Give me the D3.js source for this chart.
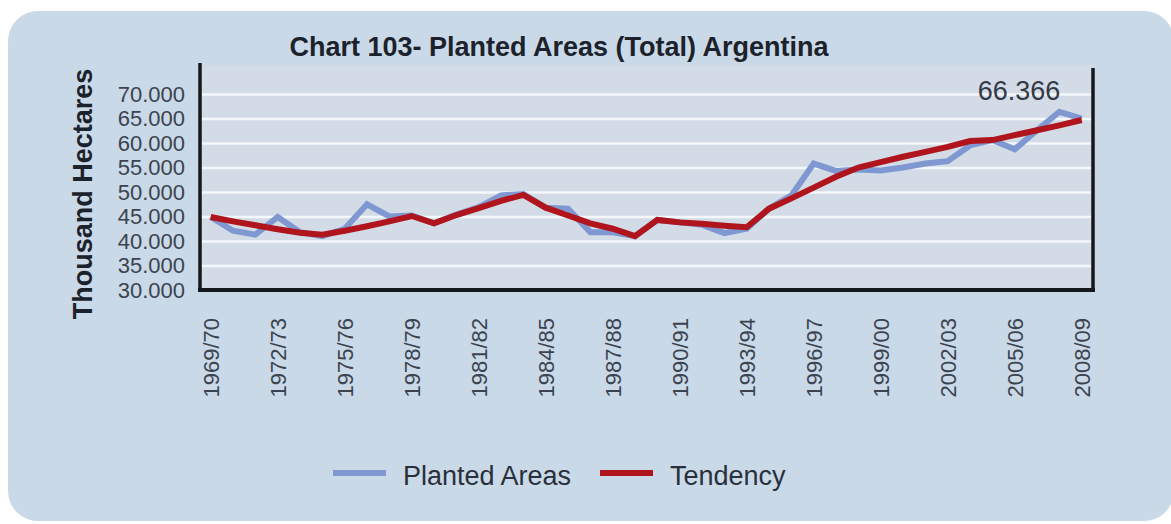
<!DOCTYPE html>
<html>
<head>
<meta charset="utf-8">
<script src="https://cdn.jsdelivr.net/npm/d3@7"></script>
<style>
  html, body { margin: 0; padding: 0; background: #ffffff; }
  svg { display: block; }
  text { font-family: "Liberation Sans", Arial, sans-serif; }
</style>
</head>
<body>
<svg id="chart" width="1171" height="524"></svg>
<script>
// ---- Data ----
const seasons = [
  "1969/70","1970/71","1971/72","1972/73","1973/74","1974/75","1975/76","1976/77",
  "1977/78","1978/79","1979/80","1980/81","1981/82","1982/83","1983/84","1984/85",
  "1985/86","1986/87","1987/88","1988/89","1989/90","1990/91","1991/92","1992/93",
  "1993/94","1994/95","1995/96","1996/97","1997/98","1998/99","1999/00","2000/01",
  "2001/02","2002/03","2003/04","2004/05","2005/06","2006/07","2007/08","2008/09"
];
const plantedAreas = [
  44900, 42100, 41300, 44900, 41800, 41000, 42500, 47500,
  45000, 45200, 43600, 45400, 46900, 49300, 49600, 46800,
  46600, 41800, 41800, 41000, 44300, 43800, 43300, 41600,
  42500, 46600, 49300, 55800, 54300, 54600, 54400, 55000,
  55800, 56300, 59500, 60600, 58700, 62600, 66366, 65000
];
const tendency = [
  44900, 44000, 43200, 42400, 41700, 41300, 42100, 43000,
  44000, 45100, 43600, 45300, 46700, 48200, 49400, 46800,
  45200, 43600, 42500, 41000, 44300, 43800, 43500, 43100,
  42800, 46600, 48700, 50900, 53100, 55000, 56100, 57200,
  58200, 59200, 60400, 60600, 61600, 62600, 63600, 64700
];
const yTicks = [30000, 35000, 40000, 45000, 50000, 55000, 60000, 65000, 70000];
const xTickLabels = ["1969/70","1972/73","1975/76","1978/79","1981/82","1984/85","1987/88",
  "1990/91","1993/94","1996/97","1999/00","2002/03","2005/06","2008/09"];
const seriesNames = ["Planted Areas", "Tendency"];
const titleText = "Chart 103- Planted Areas (Total) Argentina";
const yTitle = "Thousand Hectares";

// ---- Layout ----
const svg = d3.select("#chart");
const plot = { left: 200, right: 1093, top: 65, bottom: 290 };
const colors = { blue: "#7f98d2", red: "#b0141c" };

const locale = d3.formatLocale({ decimal: ",", thousands: ".", grouping: [3], currency: ["", ""] });
const fmt = locale.format(",.0f");

const x = d3.scalePoint().domain(seasons).range([210.7, 1081.7]);
const y = d3.scaleLinear().domain([30000, 70000]).range([290, 94]);

// panel
svg.append("rect").attr("x", 8).attr("y", 11).attr("width", 1166).attr("height", 510)
  .attr("rx", 30).attr("fill", "#c9d9e7");

// plot background
svg.append("rect").attr("x", plot.left).attr("y", plot.top)
  .attr("width", plot.right - plot.left).attr("height", plot.bottom - plot.top)
  .attr("fill", "#d3dce6");

// gridlines
const grid = svg.append("g").attr("transform", `translate(${plot.left},0)`)
  .call(d3.axisLeft(y).tickValues(yTicks.filter(d => d > 30000)).tickSize(-(plot.right - plot.left)).tickFormat(""));
grid.select(".domain").remove();
grid.selectAll("line").attr("stroke", "#f4f7fa").attr("stroke-width", 2.5);

// y tick labels
const yAx = svg.append("g").attr("transform", `translate(${plot.left - 15},0)`)
  .call(d3.axisLeft(y).tickValues(yTicks).tickSize(0).tickPadding(0).tickFormat(fmt));
yAx.select(".domain").remove();
yAx.selectAll("text").attr("font-size", 22).attr("fill", "#3c4350")
  .attr("font-family", "'Liberation Sans', Arial, sans-serif");

// x tick labels
const xAx = svg.append("g").attr("transform", `translate(0,${plot.bottom})`)
  .call(d3.axisBottom(x).tickValues(xTickLabels).tickSize(0).tickPadding(0));
xAx.select(".domain").remove();
xAx.selectAll("text")
  .attr("transform", "rotate(-90)")
  .attr("text-anchor", "end")
  .attr("x", -28).attr("y", 0).attr("dy", "0.36em")
  .attr("font-size", 22).attr("fill", "#3c4350")
  .attr("font-family", "'Liberation Sans', Arial, sans-serif");

// lines
const line = d3.line().x((d, i) => x(seasons[i])).y(d => y(d)).curve(d3.curveLinear);
svg.append("path").datum(plantedAreas).attr("d", line)
  .attr("fill", "none").attr("stroke", colors.blue).attr("stroke-width", 6)
  .attr("stroke-linejoin", "miter");
svg.append("path").datum(tendency).attr("d", line)
  .attr("fill", "none").attr("stroke", colors.red).attr("stroke-width", 6)
  .attr("stroke-linejoin", "miter");

// axes frame lines
svg.append("line").attr("x1", plot.left).attr("x2", plot.left).attr("y1", 63).attr("y2", plot.bottom + 2)
  .attr("stroke", "#15181d").attr("stroke-width", 3.5);
svg.append("line").attr("x1", plot.right).attr("x2", plot.right).attr("y1", 68).attr("y2", plot.bottom + 2)
  .attr("stroke", "#15181d").attr("stroke-width", 3.5);
svg.append("line").attr("x1", plot.left - 2).attr("x2", plot.right + 2).attr("y1", plot.bottom).attr("y2", plot.bottom)
  .attr("stroke", "#15181d").attr("stroke-width", 4);

// max annotation
const maxI = d3.maxIndex(plantedAreas);
svg.append("text").attr("x", x(seasons[maxI]) + 1).attr("y", y(plantedAreas[maxI]) - 12)
  .attr("text-anchor", "end").attr("font-size", 27).attr("fill", "#343a46")
  .text(fmt(plantedAreas[maxI]));

// title
svg.append("text").attr("x", 559).attr("y", 56).attr("text-anchor", "middle")
  .attr("font-size", 27).attr("font-weight", "bold").attr("fill", "#1c222c")
  .text(titleText);

// y title
svg.append("text").attr("transform", "translate(92,194) rotate(-90)")
  .attr("text-anchor", "middle").attr("font-size", 27).attr("font-weight", "bold").attr("fill", "#1c222c")
  .text(yTitle);

// legend
const legendItems = [
  { name: seriesNames[0], color: colors.blue, x: 333 },
  { name: seriesNames[1], color: colors.red, x: 600 }
];
const lg = svg.append("g");
legendItems.forEach(it => {
  lg.append("line").attr("x1", it.x).attr("x2", it.x + 53).attr("y1", 473).attr("y2", 473)
    .attr("stroke", it.color).attr("stroke-width", 6);
  lg.append("text").attr("x", it.x + 70).attr("y", 485).attr("font-size", 27).attr("fill", "#2a303b")
    .text(it.name);
});
</script>
</body>
</html>
